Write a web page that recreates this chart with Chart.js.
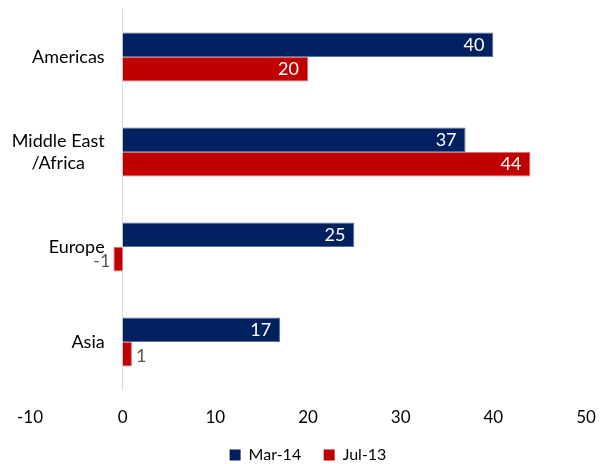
<!DOCTYPE html>
<html><head><meta charset="utf-8">
<script src="https://cdn.jsdelivr.net/npm/chart.js@4.4.0/dist/chart.umd.min.js"></script>
<style>html,body{margin:0;padding:0;background:#fff}#wrap{width:600px;height:464px}</style>
</head><body><div id="wrap"><canvas id="c" width="600" height="464"></canvas></div>
<script>
const categories = [['Americas'], ['Middle East', '/Africa'], ['Europe'], ['Asia']];
const seriesNames = ['Mar-14', 'Jul-13'];
const mar14 = [40, 37, 25, 17];
const jul13 = [20, 44, -1, 1];
const xTicks = [-10, 0, 10, 20, 30, 40, 50];
const colors = ['#002060', '#C00000'];
const borderColors = ['#5A6E96', '#DC6E6E'];
const FONT = 'Lato, "Open Sans", sans-serif';

const catLabelPlugin = {
  id: 'catLabels',
  afterDraw(chart) {
    const ctx = chart.ctx, x0 = chart.scales.x.getPixelForValue(0), ys = chart.scales.y;
    ctx.save();
    ctx.font = '18px ' + FONT; ctx.fillStyle = '#000'; ctx.textBaseline = 'middle'; ctx.textAlign = 'center';
    categories.forEach((lines, i) => {
      const yc = ys.getPixelForValue(i);
      const w = Math.max(...lines.map(l => ctx.measureText(l).width));
      const cx = x0 - 18 - w / 2;
      const lh = 22;
      lines.forEach((l, j) => ctx.fillText(l, cx, yc + (j - (lines.length - 1) / 2) * lh));
    });
    ctx.restore();
  }
};

const valueLabelPlugin = {
  id: 'valueLabels',
  afterDatasetsDraw(chart) {
    const ctx = chart.ctx;
    ctx.save();
    ctx.font = '18px ' + FONT; ctx.textBaseline = 'middle';
    chart.data.datasets.forEach((ds, di) => {
      const meta = chart.getDatasetMeta(di);
      meta.data.forEach((bar, i) => {
        const v = ds.data[i];
        const p = bar.getProps(['x', 'y'], true);
        const txt = String(v);
        if (Math.abs(v) >= 5) {
          ctx.fillStyle = '#fff'; ctx.textAlign = 'right';
          ctx.fillText(txt, p.x - 9, p.y);
        } else if (v < 0) {
          ctx.fillStyle = '#595959'; ctx.textAlign = 'right';
          ctx.fillText(txt, p.x - 3, p.y + 2);
        } else {
          ctx.fillStyle = '#595959'; ctx.textAlign = 'left';
          ctx.fillText(txt, p.x + 4, p.y + 2);
        }
      });
    });
    ctx.restore();
  }
};

new Chart(document.getElementById('c'), {
  type: 'bar',
  data: {
    labels: categories,
    datasets: [
      { label: seriesNames[0], data: mar14, backgroundColor: colors[0], borderColor: borderColors[0], borderWidth: 1 },
      { label: seriesNames[1], data: jul13, backgroundColor: colors[1], borderColor: borderColors[1], borderWidth: 1 }
    ]
  },
  options: {
    indexAxis: 'y',
    responsive: false,
    animation: false,
    barPercentage: 1,
    categoryPercentage: 0.516,
    layout: { padding: { left: 30, right: 14, top: 9.5, bottom: -9 } },
    scales: {
      x: {
        min: xTicks[0], max: xTicks[xTicks.length - 1],
        afterBuildTicks: (s) => { s.ticks = xTicks.map(v => ({ value: v })); },
        afterFit: (s) => { s.paddingLeft = 0; s.paddingRight = 0; s.height = 35; },
        grid: { display: false, drawTicks: false },
        border: { display: false },
        ticks: { color: '#000', font: { family: FONT, size: 17 }, padding: 18, maxRotation: 0 }
      },
      y: {
        position: { x: 0 },
        grid: { display: false, drawTicks: false },
        border: { display: true, color: '#D9D9D9', width: 1 },
        ticks: { display: false }
      }
    },
    plugins: {
      legend: {
        position: 'bottom',
        labels: {
          boxWidth: 11, boxHeight: 11, color: '#000', font: { family: FONT, size: 16 }, padding: 22.5,
          generateLabels: (chart) => chart.data.datasets.map((ds, i) => ({
            text: ds.label, fillStyle: colors[i], strokeStyle: colors[i], lineWidth: 0, datasetIndex: i, hidden: false
          }))
        }
      },
      tooltip: { enabled: false }
    }
  },
  plugins: [catLabelPlugin, valueLabelPlugin]
});
</script></body></html>
